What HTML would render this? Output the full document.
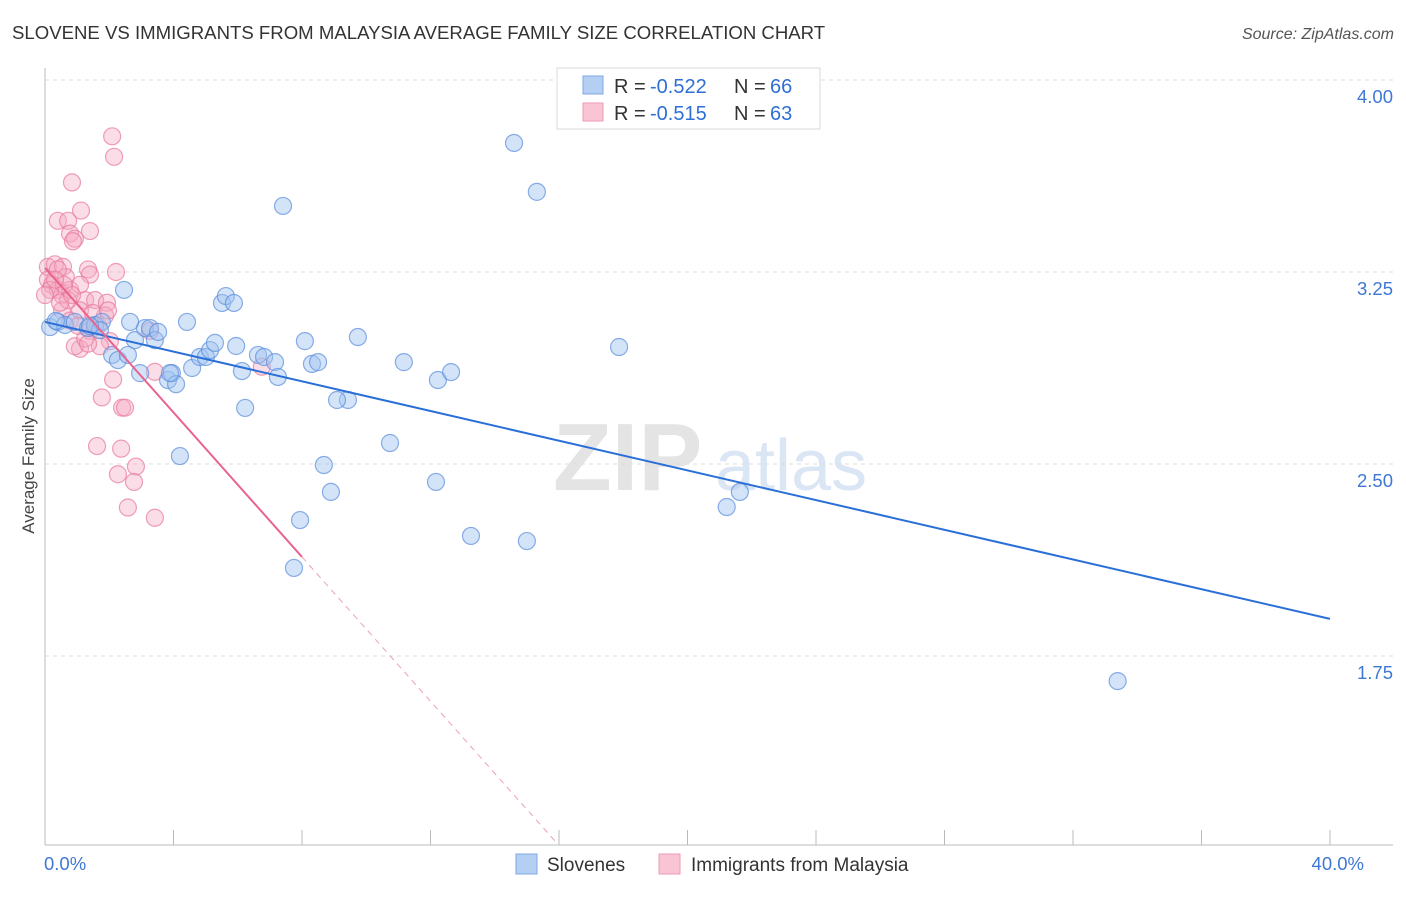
<!DOCTYPE html>
<html><head><meta charset="utf-8"><style>
body{margin:0;background:#fff;font-family:"Liberation Sans",sans-serif;}
svg text{font-family:"Liberation Sans",sans-serif;}
</style></head><body>
<svg id="chart" width="1406" height="892" xmlns="http://www.w3.org/2000/svg">
<text x="12" y="39" font-size="18.6" fill="#333">SLOVENE VS IMMIGRANTS FROM MALAYSIA AVERAGE FAMILY SIZE CORRELATION CHART</text>
<text x="1394" y="39" font-size="16" fill="#555" font-style="italic" text-anchor="end">Source: ZipAtlas.com</text>
<text transform="translate(34,456) rotate(-90)" font-size="17" fill="#444" text-anchor="middle">Average Family Size</text>
<g>
<text x="553" y="490" font-size="96" fill="#e4e4e4" font-family="Liberation Serif" font-weight="bold">ZIP</text>
<text x="715" y="490" font-size="72" fill="#dbe6f5">atlas</text>
</g>
<g id="grid"></g><g id="axes"></g><g id="marks"></g>
<g>
<rect x="557" y="68" width="263" height="61" fill="#fff" stroke="#d8d8d8"/>
<rect x="583" y="76" width="20" height="18" fill="#b5cff3" stroke="#7ea7e3"/>
<rect x="583" y="103" width="20" height="18" fill="#f9c5d5" stroke="#ee9ab5"/>
<text x="614" y="93" font-size="20" fill="#333">R =</text>
<text x="650" y="93" font-size="20" fill="#2f6fd6">-0.522</text>
<text x="734" y="93" font-size="20" fill="#333">N =</text>
<text x="770" y="93" font-size="20" fill="#2f6fd6">66</text>
<text x="614" y="120" font-size="20" fill="#333">R =</text>
<text x="650" y="120" font-size="20" fill="#2f6fd6">-0.515</text>
<text x="734" y="120" font-size="20" fill="#333">N =</text>
<text x="770" y="120" font-size="20" fill="#2f6fd6">63</text>
</g>
<g>
<rect x="516" y="854" width="21" height="20" fill="#b5cff3" stroke="#7ea7e3"/>
<text x="547" y="871" font-size="19" fill="#333">Slovenes</text>
<rect x="659" y="854" width="21" height="20" fill="#f9c5d5" stroke="#ee9ab5"/>
<text x="691" y="871" font-size="19" fill="#333">Immigrants from Malaysia</text>
</g>
</svg>
<script>
const xTicks=[0,40];
const yTicks=[1.75,2.5,3.25,4.0];
const blueX=[0.16,0.40,0.62,0.93,1.34,1.56,1.77,2.09,2.27,2.46,2.58,2.80,2.96,3.11,3.27,3.42,3.52,3.83,3.95,4.08,4.20,4.42,4.58,4.82,5.01,5.14,5.29,5.51,5.63,5.88,5.95,6.13,6.23,6.63,6.82,7.16,7.25,7.41,7.75,7.94,8.09,8.31,8.50,8.68,8.90,9.43,9.09,9.74,10.74,11.17,12.17,12.23,12.64,13.26,14.60,15.00,15.31,17.87,21.22,21.63,33.39,0.34,1.71,1.40,2.65,3.89];
const blueY=[3.035,3.055,3.043,3.055,3.031,3.043,3.055,2.926,2.906,3.18,2.926,2.984,2.855,3.031,3.031,2.984,3.016,2.828,2.855,2.812,2.531,3.055,2.875,2.918,2.918,2.945,2.973,3.129,3.156,3.129,2.961,2.863,2.719,2.926,2.918,2.898,2.84,3.508,2.094,2.281,2.98,2.891,2.898,2.496,2.391,2.75,2.75,2.996,2.582,2.898,2.43,2.828,2.859,2.219,3.754,2.199,3.563,2.957,2.332,2.391,1.652,3.059,3.023,3.039,3.055,2.855];
const pinkX=[2.09,2.15,0.84,1.12,0.40,0.72,0.78,0.93,1.40,0.87,0.09,0.31,0.56,2.21,1.34,1.40,0.09,0.22,0.40,0.65,0.53,0.78,1.09,1.25,1.56,1.93,0.53,0.78,1.09,1.40,1.65,1.87,2.02,1.09,0.93,1.71,2.12,1.77,2.40,2.49,1.62,2.37,2.27,2.83,2.77,2.58,3.42,3.42,6.75,3.27,0.72,0.40,0.16,0.0,0.47,1.25,1.49,1.03,0.59,0.31,0.84,1.34,1.96];
const pinkY=[3.78,3.70,3.60,3.49,3.45,3.45,3.40,3.38,3.41,3.37,3.27,3.28,3.27,3.25,3.26,3.24,3.22,3.20,3.18,3.23,3.16,3.18,3.20,3.14,3.14,3.13,3.10,3.06,3.10,3.02,3.04,3.08,2.98,2.95,2.96,2.96,2.83,2.76,2.72,2.72,2.57,2.56,2.46,2.49,2.43,2.33,2.29,2.86,2.88,3.02,3.14,3.26,3.18,3.16,3.13,2.99,3.09,3.04,3.20,3.22,3.16,2.97,3.10];
const blueTrend=[[0,3.055],[40,1.895]];
const pinkTrend=[[0,3.266],[8.0,2.137]];
const pinkTrendExt=[[8.0,2.137],[15.87,1.028]];
const NS="http://www.w3.org/2000/svg";
const sx=v=>45+v/40*1285, sy=v=>80+(4-v)*256;
function mk(tag,attrs,parent){const e=document.createElementNS(NS,tag);for(const k in attrs)e.setAttribute(k,attrs[k]);parent.appendChild(e);return e;}
const grid=document.getElementById('grid'),axes=document.getElementById('axes'),marks=document.getElementById('marks');
yTicks.forEach(t=>{
 const l=mk('line',{x1:45,x2:1393,y1:sy(t),y2:sy(t),stroke:'#ddd','stroke-dasharray':'4,4'},grid);
 
 
 const tx=mk('text',{x:1393,y:sy(t)+23,'font-size':18.5,fill:'#3f78d4','text-anchor':'end'},axes);
 tx.textContent=t.toFixed(2);
 
 
});
const ax=mk('line',{x1:45,x2:1393,y1:845,y2:845,stroke:'#bbb'},axes);


const ay=mk('line',{x1:45,x2:45,y1:68,y2:845,stroke:'#bbb'},axes);


for(let i=0;i<=10;i++){const v=i*4;
 const tk=mk('line',{x1:sx(v),x2:sx(v),y1:830,y2:845,stroke:'#bbb'},axes);
 
 }
xTicks.forEach((t,i)=>{
 const tx=mk('text',{x:sx(t)+(i==0?-1:34),y:870,'font-size':18.5,fill:'#3f78d4','text-anchor':i==0?'start':'end'},axes);
 tx.textContent=t.toFixed(1)+'%';
 
 
});
pinkX.forEach((x,i)=>{
 const c=mk('circle',{cx:sx(x),cy:sy(pinkY[i]),r:8.5,fill:'rgba(245,170,195,0.4)',stroke:'rgba(232,120,155,0.7)','stroke-width':1.2},marks);
 
 
});
blueX.forEach((x,i)=>{
 const c=mk('circle',{cx:sx(x),cy:sy(blueY[i]),r:8.5,fill:'rgba(160,195,240,0.45)',stroke:'rgba(90,140,220,0.7)','stroke-width':1.2},marks);
 
 
});
const bl=mk('line',{x1:sx(blueTrend[0][0]),y1:sy(blueTrend[0][1]),x2:sx(blueTrend[1][0]),y2:sy(blueTrend[1][1]),stroke:'#2a6fd8','stroke-width':2},marks);


const pl=mk('line',{x1:sx(pinkTrend[0][0]),y1:sy(pinkTrend[0][1]),x2:sx(pinkTrend[1][0]),y2:sy(pinkTrend[1][1]),stroke:'#e8648e','stroke-width':2},marks);


const pe=mk('line',{x1:sx(pinkTrendExt[0][0]),y1:sy(pinkTrendExt[0][1]),x2:sx(pinkTrendExt[1][0]),y2:sy(pinkTrendExt[1][1]),stroke:'#eba0b8','stroke-width':1,'stroke-dasharray':'6,5'},marks);


</script>
</body></html>
